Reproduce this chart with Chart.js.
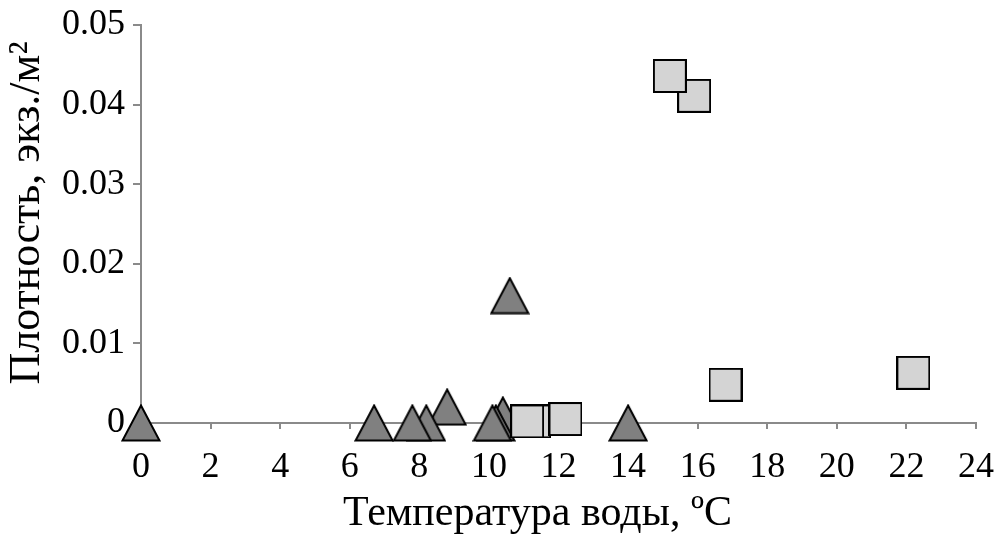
<!DOCTYPE html>
<html>
<head>
<meta charset="utf-8">
<script src="https://cdn.jsdelivr.net/npm/chart.js@4"></script>
<style>
  html, body { margin: 0; padding: 0; background: #fff; }
  #wrap { width: 1004px; height: 539px; }
</style>
</head>
<body>
<div id="wrap"><canvas id="myScatter" width="1004" height="539"></canvas></div>
<script>
// values
var xTicks = [0, 2, 4, 6, 8, 10, 12, 14, 16, 18, 20, 22, 24];
var yTicks = [0, 0.01, 0.02, 0.03, 0.04, 0.05];
var yTickLabels = ["0", "0.01", "0.02", "0.03", "0.04", "0.05"];

// squares (listed so that the left one of an overlapping pair is drawn on top)
var squareTemp = [11.3, 11.1, 12.2, 15.9, 15.2, 16.8, 22.2];
var squareDens = [0.0002, 0.0002, 0.0005, 0.0411, 0.0436, 0.0048, 0.0063];

// triangles
var triTemp = [14.0, 10.6, 10.4, 10.2, 10.1, 8.8, 8.2, 7.8, 6.7, 0];
var triDens = [0, 0.016, 0.001, 0, 0, 0.002, 0, 0, 0, 0];

function toPoints(xs, ys) {
  return xs.map(function (x, i) { return { x: x, y: ys[i] }; });
}

// marker images, centred on the point like in the original
function makeTriangle() {
  var c = document.createElement("canvas");
  c.width = 40; c.height = 38;
  var g = c.getContext("2d");
  g.beginPath();
  g.moveTo(20, 1.5);
  g.lineTo(38.5, 36.5);
  g.lineTo(1.5, 36.5);
  g.closePath();
  g.fillStyle = "#808080";
  g.fill();
  g.lineWidth = 2;
  g.lineJoin = "miter";
  g.strokeStyle = "#000";
  g.stroke();
  return c;
}

function makeSquare() {
  var c = document.createElement("canvas");
  c.width = 34; c.height = 34;
  var g = c.getContext("2d");
  g.fillStyle = "#d4d4d4";
  g.fillRect(1, 1, 32, 32);
  g.lineWidth = 2;
  g.strokeStyle = "#000";
  g.strokeRect(1, 1, 32, 32);
  return c;
}

// drop the label overflow so layout.padding alone sets the plot edges
function noOverflow(scale) {
  scale.paddingLeft = 0;
  scale.paddingRight = 0;
  scale.paddingTop = 0;
  scale.paddingBottom = 0;
}

var font = "'Liberation Serif', 'Times New Roman', serif";
var axisGray = "#8a8a8a";

var ctx = document.getElementById("myScatter").getContext("2d");
var myScatter = new Chart(ctx, {
  type: "scatter",
  data: {
    datasets: [
      {
        label: "squares",
        data: toPoints(squareTemp, squareDens),
        pointStyle: makeSquare(),
        clip: false,
      },
      {
        label: "triangles",
        data: toPoints(triTemp, triDens),
        pointStyle: makeTriangle(),
        clip: false,
      },
    ],
  },
  options: {
    responsive: false,
    animation: false,
    layout: { padding: { top: 25, right: 28, left: 0, bottom: 0 } },
    plugins: { legend: { display: false }, tooltip: { enabled: false } },
    scales: {
      x: {
        type: "linear",
        min: 0,
        max: 24,
        afterBuildTicks: function (scale) {
          scale.ticks = xTicks.map(function (v) { return { value: v }; });
        },
        afterFit: function (scale) { scale.height = 116; noOverflow(scale); },
        border: { display: true, color: axisGray, width: 2 },
        grid: { drawOnChartArea: false, drawTicks: true, tickLength: 6, color: axisGray, lineWidth: 2 },
        ticks: {
          color: "#000",
          font: { family: font, size: 36 },
          padding: 17,
          maxRotation: 0,
          autoSkip: false,
          callback: function (value) { return String(value); },
        },
        title: {
          display: true,
          text: "Температура воды, ºС    ",
          color: "#000",
          font: { family: font, size: 42 },
          padding: { top: 0, bottom: 0 },
        },
      },
      y: {
        type: "linear",
        min: 0,
        max: 0.05,
        afterBuildTicks: function (scale) {
          scale.ticks = yTicks.map(function (v) { return { value: v }; });
        },
        afterFit: function (scale) { scale.width = 141; noOverflow(scale); },
        border: { display: true, color: axisGray, width: 2 },
        grid: { drawOnChartArea: false, drawTicks: true, tickLength: 8, color: axisGray, lineWidth: 2 },
        ticks: {
          color: "#000",
          font: { family: font, size: 36 },
          padding: 8,
          autoSkip: false,
          callback: function (value, index) { return yTickLabels[index]; },
        },
        title: {
          display: true,
          text: "  Плотность, экз./м²",
          color: "#000",
          font: { family: font, size: 44 },
          padding: { top: 1, bottom: 0 },
        },
      },
    },
  },
});
</script>
</body>
</html>
